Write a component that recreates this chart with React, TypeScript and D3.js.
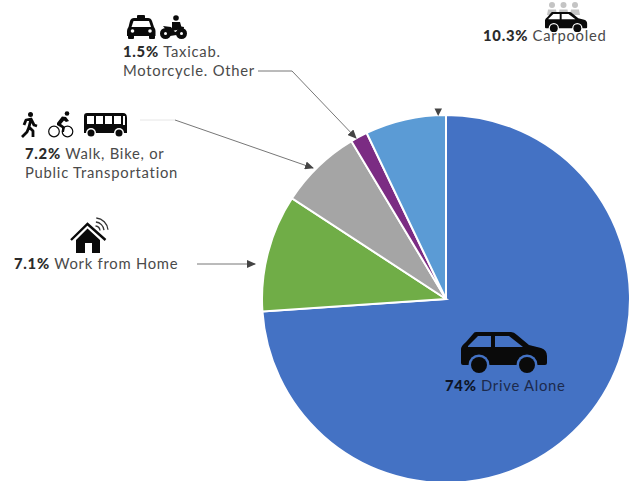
import React from "react";
import * as d3 from "d3";

// Wedges clockwise from twelve o'clock.
const sliceKeys = ["driveAlone", "green", "gray", "purple", "lightBlue"];
const sliceValues = [74, 10.3, 7.2, 1.5, 7.1];
const sliceColors = ["#4472C4", "#70AD47", "#A5A5A5", "#7B2C83", "#5B9BD5"];

const WIDTH = 633;
const HEIGHT = 481;
const FONT = "Lato, 'Open Sans', sans-serif";
const TEXT = "#4a4a4a";
const BOLD = "#2b2b2b";
const INK = "#0a0a0a";

const pie = d3.pie<number>().sort(null).value((d) => d);
const arc = d3.arc<d3.PieArcDatum<number>>().innerRadius(0).outerRadius(184);

function Label({ x, y, pct, text, fill = TEXT, bold = BOLD }: any) {
  return (
    <text x={x} y={y} fontFamily={FONT} fontSize={14.8} letterSpacing={0.75} fill={fill}>
      {pct && <tspan fontWeight={900} fill={bold}>{pct} </tspan>}
      {text}
    </text>
  );
}

// Side-view sedan, 86 wide by 43 tall in local units.
function Car({ x, y, s, cut }: any) {
  return (
    <g transform={`translate(${x},${y}) scale(${s})`}>
      <path
        fill={INK}
        d="M15 0 L50 0 Q53 0 56 3 L68 13 L80 16 Q86 18 86 24 L86 31 Q86 33 84 33 L2 33 Q0 33 0 31 L0 17 Q0 14 5 10 L12 2 Q13 0 15 0 Z"
      />
      <path fill={cut} d="M7 14 L17 4 L30 4 L30 15 L7 15 Z M34 4 L48 4 L62 15 L34 15 Z" />
      {[18, 66].map((cx) => (
        <g key={cx}>
          <circle cx={cx} cy={33} r={10.500} fill={cut} />
          <circle cx={cx} cy={33} r={8} fill={INK} />
        </g>
      ))}
    </g>
  );
}

function Taxi() {
  return (
    <g fill={INK}>
      <rect x={137} y={15} width={8} height={4} rx={1} />
      <path d="M134 18 L148 18 Q151 18 152 21 L154 27 Q155.500 29 155.500 31 L155.500 36 L127 36 L127 31 Q127 29 128.500 27 L130 21 Q131 18 134 18 Z" />
      <rect x={128} y={35} width={6} height={4} rx={1} />
      <rect x={149} y={35} width={6} height={4} rx={1} />
      <path fill="#fff" d="M133.500 21 L149 21 L151 27 L131.500 27 Z" />
      <circle cx={132.500} cy={31} r={1.800} fill="#fff" />
      <circle cx={150} cy={31} r={1.800} fill="#fff" />
    </g>
  );
}

function Motorcycle() {
  return (
    <g fill={INK}>
      <circle cx={176} cy={18} r={2.800} />
      <path d="M172 22 L180 22 L182 29 L172 31 Z" />
      <path d="M163 26 L171 27 L175 32 L182 30 L178 26 L184 27 L183 34 L170 36 L167 31 Z" />
      <circle cx={165.500} cy={33.500} r={5.500} />
      <circle cx={181.500} cy={33.500} r={5.500} />
      <circle cx={165.500} cy={33.500} r={1.500} fill="#fff" />
      <circle cx={181.500} cy={33.500} r={1.500} fill="#fff" />
    </g>
  );
}

function Walker() {
  return (
    <g>
      <circle cx={30.500} cy={114.500} r={2.500} fill={INK} />
      <path
        fill="none"
        stroke={INK}
        strokeWidth={2.800}
        strokeLinejoin="round"
        d="M24 125 L26 120 L31 119 L34 125 L37 126 M31 119 L29 127 L33 131 L33 137 M29 127 L27 132 L22 137"
      />
    </g>
  );
}

function Bicycle() {
  return (
    <g>
      <circle cx={67} cy={113.500} r={2.300} fill={INK} />
      <path fill={INK} d="M57 123 L62 116.500 L66 117 L69 121 L66 122 L64 120.500 L61 124 L65 127 L64 132 L62 132 L62 128 L57 125 Z" />
      <circle cx={54} cy={131.500} r={5.300} fill="none" stroke={INK} strokeWidth={1.200} />
      <circle cx={67.500} cy={131.500} r={5.300} fill="none" stroke={INK} strokeWidth={1.200} />
    </g>
  );
}

function Bus() {
  return (
    <g>
      <path fill={INK} d="M87 113 L123 113 Q127 113 127 118 L127 133 L84 133 L84 116 Q84 113 87 113 Z" />
      {[87, 96, 105, 114].map((wx) => (
        <rect key={wx} x={wx} y={116} width={7} height={8} fill="#fff" />
      ))}
      <path fill="#fff" d="M123 116 L125 116 L125 125 L123 125 Z" />
      {[91, 119].map((cx) => (
        <g key={cx}>
          <circle cx={cx} cy={133} r={5} fill="#fff" />
          <circle cx={cx} cy={133} r={3.500} fill={INK} />
        </g>
      ))}
    </g>
  );
}

function House() {
  return (
    <g>
      <path fill="none" stroke={INK} strokeWidth={2.400} d="M71 240 L87.500 224 L105.500 240" />
      <path fill={INK} fillRule="evenodd" d="M87.500 228.500 L100 240 L100 253 L76 253 L76 240 Z M85 243 L85 253 L92 253 L92 243 Z" />
      {[5, 9, 13].map((r) => (
        <path
          key={r}
          fill="none"
          stroke="#333"
          strokeWidth={1.300}
          d={`M${95 + r * 0.1} ${231 - r} A${r} ${r} 0 0 1 ${95 + r} ${231 - r * 0.1}`}
        />
      ))}
    </g>
  );
}

function Carpool() {
  return (
    <g>
      {[552, 563.500, 575].map((cx) => (
        <g key={cx} fill="#c4c4c4">
          <circle cx={cx} cy={5} r={3} />
          <path d={`M${cx - 5} 15 L${cx - 4} 9.500 L${cx + 4} 9.500 L${cx + 5} 15 Z`} />
        </g>
      ))}
      <Car x={545} y={12} s={0.49} cut="#fff" />
    </g>
  );
}

export default function App() {
  const arcs = pie(sliceValues);
  return (
    <svg
      width={WIDTH}
      height={HEIGHT}
      viewBox={`0 0 ${WIDTH} ${HEIGHT}`}
      style={{ position: "absolute", left: 0, top: 0, display: "block", background: "#fff" }}
    >
      <defs>
        <marker id="head" markerWidth={9} markerHeight={8} refX={8} refY={4} orient="auto" markerUnits="userSpaceOnUse">
          <path d="M0 0 L9 4 L0 8 Z" fill="#444" />
        </marker>
      </defs>

      <g transform="translate(446,299)">
        {arcs.map((a, i) => (
          <path key={sliceKeys[i]} d={arc(a) as string} fill={sliceColors[i]} stroke="#fff" strokeWidth={2} />
        ))}
      </g>

      {/* Leader lines */}
      <g fill="none" strokeWidth={1}>
        <path d="M197 264 L255 264" stroke="#777" markerEnd="url(#head)" />
        <path d="M140 120 L175 120" stroke="#e6e6e6" />
        <path d="M175 120 L313 168" stroke="#777" markerEnd="url(#head)" />
        <path d="M258 71 L292 71 L356 138" stroke="#777" markerEnd="url(#head)" />
      </g>
      <path d="M434.500 108.500 L442 108.500 L438.200 116 Z" fill="#444" />

      <Taxi />
      <Motorcycle />
      <Walker />
      <Bicycle />
      <Bus />
      <House />
      <Carpool />
      <Car x={461} y={332} s={1} cut="#4472C4" />

      <Label x={123} y={57} pct="1.5%" text="Taxicab." />
      <Label x={123} y={76} text="Motorcycle. Other" />
      <Label x={25} y={158.500} pct="7.2%" text="Walk, Bike, or" />
      <Label x={25} y={177.500} text="Public Transportation" />
      <Label x={14} y={269} pct="7.1%" text="Work from Home" />
      <Label x={483} y={41} pct="10.3%" text="Carpooled" />
      <Label x={445} y={391} pct="74%" text="Drive Alone" fill="#1c2a4d" bold="#0d1528" />
    </svg>
  );
}
